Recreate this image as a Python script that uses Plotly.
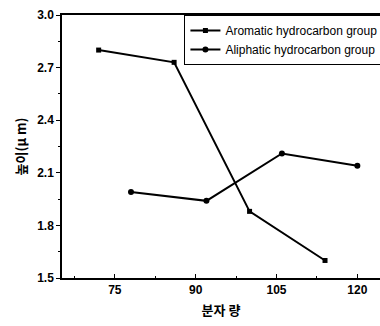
import plotly.graph_objects as go

aromatic_x = [72, 86, 100, 114]
aromatic_y = [2.80, 2.73, 1.88, 1.60]
aliphatic_x = [78, 92, 106, 120]
aliphatic_y = [1.99, 1.94, 2.21, 2.14]
series_names = ["Aromatic hydrocarbon group", "Aliphatic hydrocarbon group"]
x_ticks = [75, 90, 105, 120]
y_ticks = [1.5, 1.8, 2.1, 2.4, 2.7, 3.0]

FONT = "Liberation Sans, Arial, Noto Sans CJK KR"

fig = go.Figure()
fig.add_trace(go.Scatter(x=aromatic_x, y=aromatic_y, mode="lines+markers", name=series_names[0],
                         line=dict(color="black", width=2),
                         marker=dict(symbol="square", size=5, color="black")))
fig.add_trace(go.Scatter(x=aliphatic_x, y=aliphatic_y, mode="lines+markers", name=series_names[1],
                         line=dict(color="black", width=2),
                         marker=dict(symbol="circle", size=6, color="black")))

fig.update_layout(
    width=380, height=326,
    margin=dict(l=62, r=0, t=15, b=48, autoexpand=False),
    plot_bgcolor="white", paper_bgcolor="white",
    font=dict(family=FONT, color="black"),
    showlegend=True,
    legend=dict(x=0.385, y=1.0, xanchor="left", yanchor="top",
                bordercolor="black", borderwidth=1, bgcolor="white",
                font=dict(size=12, family=FONT), tracegroupgap=0,
                itemwidth=30),
    xaxis=dict(range=[65.2, 124.2], tickvals=x_ticks, ticktext=["<b>%d</b>" % v for v in x_ticks],
               showline=True, linecolor="black", linewidth=1.5, mirror=True,
               ticks="inside", ticklen=4, tickcolor="black",
               minor=dict(ticks="inside", ticklen=2, tickcolor="black", dtick=7.5, tick0=75),
               showgrid=False, zeroline=False,
               tickfont=dict(size=12, family="Liberation Sans", color="black"),
               title=dict(text="<b>분자 량</b>", font=dict(size=13, family="Noto Sans CJK KR"), standoff=10)),
    yaxis=dict(range=[1.5, 3.0], tickvals=y_ticks, ticktext=["<b>%.1f</b>" % v for v in y_ticks],
               showline=True, linecolor="black", linewidth=1.5,
               ticks="outside", ticklen=4, tickcolor="black",
               minor=dict(ticks="outside", ticklen=2, tickcolor="black", dtick=0.15, tick0=1.5),
               showgrid=False, zeroline=False,
               tickfont=dict(size=12, family="Liberation Sans", color="black"),
               title=dict(text="<b>높이(μ m)</b>", font=dict(size=13, family="Noto Sans CJK KR"), standoff=8)),
)

fig.write_html("out.html", config={"displayModeBar": False},
               post_script="document.body.style.margin='0';document.body.style.overflow='hidden';")
